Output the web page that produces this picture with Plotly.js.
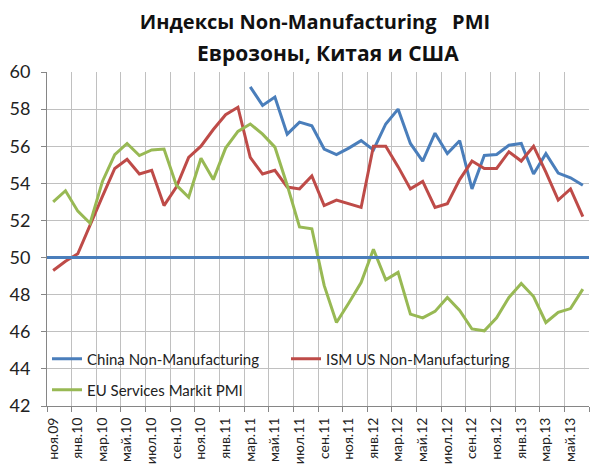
<!DOCTYPE html>
<html>
<head>
<meta charset="utf-8">
<script src="https://cdn.plot.ly/plotly-3.0.1.min.js"></script>
<style>html,body{margin:0;padding:0;background:#fff;}#chart{width:590px;height:470px;}</style>
</head>
<body>
<div id="chart"></div>
<script>
// Months (Nov 2009 .. Jun 2013)
const months = ["ноя.09","дек.09",
  "янв.10","фев.10","мар.10","апр.10","май.10","июн.10","июл.10","авг.10","сен.10","окт.10","ноя.10","дек.10",
  "янв.11","фев.11","мар.11","апр.11","май.11","июн.11","июл.11","авг.11","сен.11","окт.11","ноя.11","дек.11",
  "янв.12","фев.12","мар.12","апр.12","май.12","июн.12","июл.12","авг.12","сен.12","окт.12","ноя.12","дек.12",
  "янв.13","фев.13","мар.13","апр.13","май.13","июн.13"];

const chinaNonMfg = [null,null,null,null,null,null,null,null,null,null,null,null,null,null,null,null,
  59.2,58.2,58.65,56.65,57.3,57.1,55.85,55.55,55.9,56.3,55.8,57.2,58.0,56.15,55.2,56.7,
  55.6,56.3,53.7,55.5,55.55,56.05,56.15,54.5,55.6,54.55,54.3,53.9];

const ismUsNonMfg = [49.3,49.8,50.2,51.8,53.3,54.8,55.3,54.5,54.7,52.8,53.8,55.4,56.0,56.9,57.7,58.1,
  55.4,54.5,54.7,53.8,53.7,54.4,52.8,53.1,52.9,52.7,56.0,56.0,54.9,53.7,54.1,52.7,
  52.9,54.2,55.2,54.8,54.8,55.7,55.2,56.0,54.6,53.1,53.7,52.2];

const euServicesPmi = [53.0,53.6,52.5,51.85,54.1,55.55,56.15,55.5,55.8,55.85,53.9,53.25,55.35,54.2,55.9,56.8,
  57.2,56.65,55.95,53.9,51.65,51.55,48.5,46.5,47.55,48.65,50.45,48.8,49.2,46.95,46.75,47.1,
  47.85,47.15,46.15,46.05,46.75,47.85,48.6,47.9,46.5,47.05,47.25,48.3];

const threshold = 50;
const seriesNames = ["China Non-Manufacturing","ISM US Non-Manufacturing","EU Services Markit PMI"];
const colors = ["#4a7ebb","#be4b48","#98b954"];
const titleLine1 = "Индексы Non-Manufacturing   PMI";
const titleLine2 = "Еврозоны, Китая и США";

const xIdx = months.map((m,i)=>i);
// ticks at category boundaries every 2 months, labels shifted half a category
const tickVals = [], tickText = [];
for (let i = 0; i < months.length; i += 2) { tickVals.push(i - 0.5); tickText.push(months[i]); }
tickVals.push(months.length - 0.5); tickText.push("");

const lw = 3;
const traces = [
  {x:xIdx, y:chinaNonMfg, name:seriesNames[0], type:"scatter", mode:"lines", line:{color:colors[0], width:lw}, legend:"legend"},
  {x:xIdx, y:ismUsNonMfg, name:seriesNames[1], type:"scatter", mode:"lines", line:{color:colors[1], width:lw}, legend:"legend"},
  {x:xIdx, y:euServicesPmi, name:seriesNames[2], type:"scatter", mode:"lines", line:{color:colors[2], width:lw}, legend:"legend2"}
];

const fontFam = "Lato, 'Open Sans', sans-serif";
const titleFam = "'Open Sans', Lato, sans-serif";
const layout = {
  width:590, height:470,
  margin:{l:47, r:1, t:72, b:64},
  paper_bgcolor:"#fff", plot_bgcolor:"#fff",
  font:{family:fontFam, color:"#222"},
  title:{text:"<b>"+titleLine1+"</b>",
         font:{size:20, family:titleFam, color:"#111"}, x:315/590, xref:"container", xanchor:"center",
         y:1-21.5/470, yref:"container", yanchor:"middle"},
  annotations:[{text:"<b>"+titleLine2+"</b>", xref:"paper", yref:"paper", x:(328-47)/542, y:(406-53)/334,
                xanchor:"center", yanchor:"middle", showarrow:false,
                font:{size:21, family:titleFam, color:"#111"}}],
  xaxis:{range:[-0.5, months.length-0.5], tickmode:"array", tickvals:tickVals, ticktext:tickText,
         tickangle:-90, ticklabelshift:6, ticks:"outside", ticklen:5, tickcolor:"#868686",
         showgrid:true, gridcolor:"#c0c0c0", gridwidth:1, showline:true, linecolor:"#868686", zeroline:false,
         tickfont:{size:14, color:"#222"}, fixedrange:true},
  yaxis:{range:[42,60], dtick:2, tick0:42, ticks:"outside", ticklen:5, tickcolor:"#868686",
         showgrid:true, gridcolor:"#c0c0c0", gridwidth:1, showline:true, linecolor:"#868686", zeroline:false,
         ticklabelstandoff:7,
         tickfont:{size:18, color:"#222"}, fixedrange:true},
  shapes:[{type:"line", xref:"paper", x0:0, x1:1, yref:"y", y0:threshold, y1:threshold,
           line:{color:colors[0], width:lw}, layer:"above"}],
  legend:{orientation:"h", x:0, xanchor:"left", y:0.141, yanchor:"middle", bgcolor:"rgba(0,0,0,0)",
          font:{size:15, family:fontFam, color:"#222"}, entrywidth:194, itemwidth:30},
  legend2:{orientation:"h", x:0, xanchor:"left", y:0.048, yanchor:"middle", bgcolor:"rgba(0,0,0,0)",
          font:{size:15, family:fontFam, color:"#222"}, itemwidth:30},
  showlegend:true
};
Plotly.newPlot("chart", traces, layout, {displayModeBar:false, staticPlot:true});
</script>
</body>
</html>
